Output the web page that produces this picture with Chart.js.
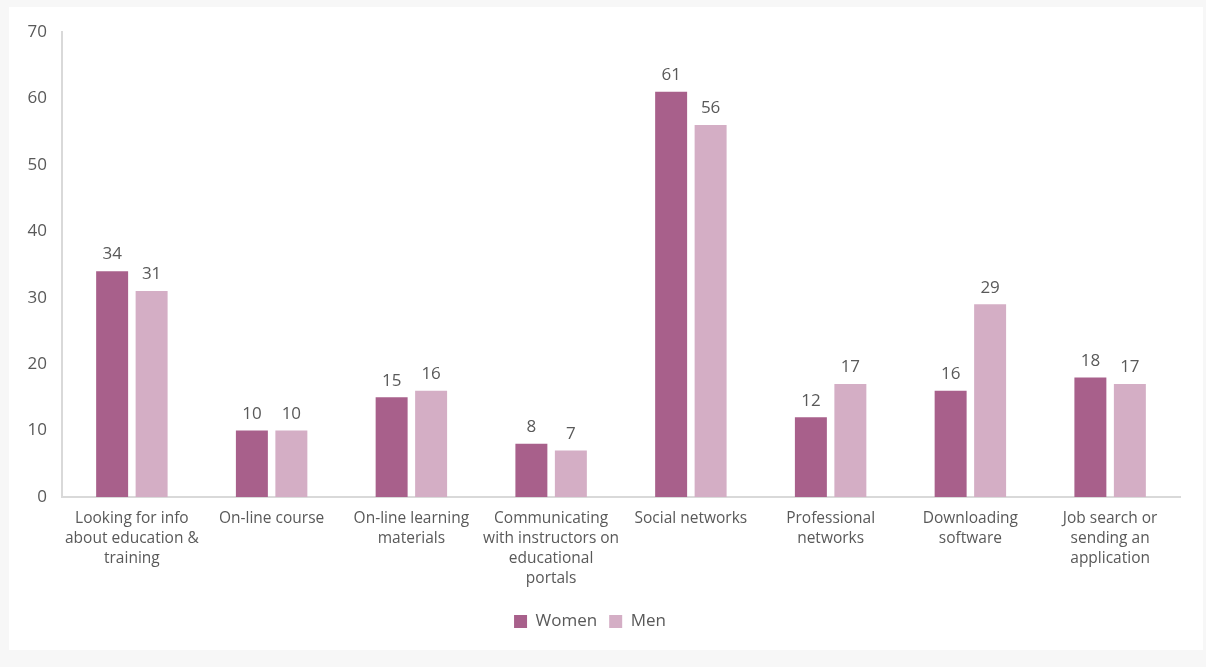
<!DOCTYPE html>
<html>
<head>
<meta charset="utf-8">
<script src="https://cdn.jsdelivr.net/npm/chart.js@4.4.1/dist/chart.umd.min.js"></script>
<style>
  html, body { margin: 0; padding: 0; background: #f7f7f7; }
  .panel { position: absolute; left: 9px; top: 7px; width: 1194px; height: 643px; background: #fff; }
  .wrap { position: absolute; left: 0; top: 0; width: 1206px; height: 667px; }
</style>
</head>
<body>
<div class="panel"></div>
<div class="wrap"><canvas id="chart" width="1206" height="667"></canvas></div>
<script>
// ==================== DONNEES ====================

const categories = [
  ['Looking for info', 'about education &', 'training'],
  ['On-line course'],
  ['On-line learning', 'materials'],
  ['Communicating', 'with instructors on', 'educational', 'portals'],
  ['Social networks'],
  ['Professional', 'networks'],
  ['Downloading', 'software'],
  ['Job search or', 'sending an', 'application']
];
const women = [34, 10, 15, 8, 61, 12, 16, 18];
const men = [31, 10, 16, 7, 56, 17, 29, 17];
const yTicks = [0, 10, 20, 30, 40, 50, 60, 70];

const gris = '#595959';
const police = "'Open Sans', 'DejaVu Sans', sans-serif";

// Valeurs au-dessus des barres
const etiquettes = {
  id: 'etiquettes',
  afterDatasetsDraw(chart) {
    const ctx = chart.ctx;
    ctx.save();
    ctx.font = '17px ' + police;
    ctx.fillStyle = gris;
    ctx.textAlign = 'center';
    ctx.textBaseline = 'bottom';
    chart.data.datasets.forEach((ds, i) => {
      chart.getDatasetMeta(i).data.forEach((bar, j) => {
        ctx.fillText(ds.data[j], bar.x, bar.y - 8);
      });
    });
    ctx.restore();
  }
};

new Chart(document.getElementById('chart'), {
  type: 'bar',
  data: {
    labels: categories,
    datasets: [
      { label: 'Women', data: women, backgroundColor: '#a8608b', categoryPercentage: 0.565, barPercentage: 0.81 },
      { label: 'Men', data: men, backgroundColor: '#d4aec5', categoryPercentage: 0.565, barPercentage: 0.81 }
    ]
  },
  options: {
    responsive: false,
    animation: false,
    layout: { padding: { top: 32, right: 26, bottom: 27, left: 0 } },
    plugins: {
      tooltip: { enabled: false },
      legend: {
        position: 'bottom',
        labels: {
          boxWidth: 13, boxHeight: 13, padding: 12,
          color: gris,
          font: { family: police, size: 17 }
        }
      }
    },
    scales: {
      y: {
        min: 0, max: 70,
        afterBuildTicks(scale) { scale.ticks = yTicks.map(v => ({ value: v })); },
        afterFit(scale) { scale.width = 62; },
        grid: { display: false, drawTicks: false },
        border: { color: '#d9d9d9', width: 2 },
        ticks: { color: gris, padding: 15, font: { family: police, size: 17 } }
      },
      x: {
        afterFit(scale) { scale.height = 104; },
        grid: { display: false, drawTicks: false },
        border: { color: '#d9d9d9', width: 2 },
        ticks: {
          color: gris, padding: 12, maxRotation: 0, autoSkip: false,
          font: { family: police, size: 15.5, lineHeight: 1.29 }
        }
      }
    }
  },
  plugins: [etiquettes]
});
</script>
</body>
</html>
